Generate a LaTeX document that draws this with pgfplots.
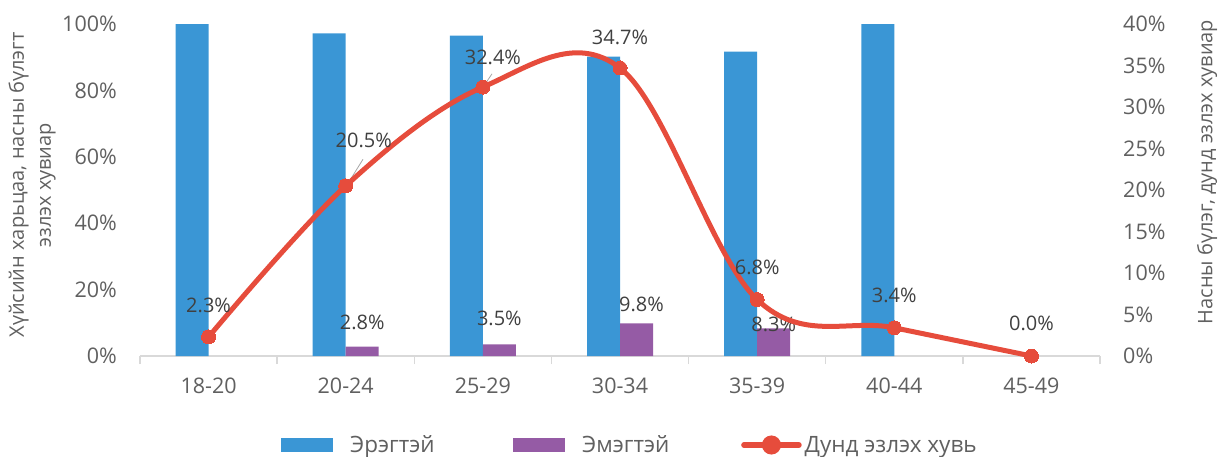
\documentclass[border=0pt]{standalone}
\usepackage{fontspec}
\setmainfont{Open Sans}
\usepackage{pgfplots}
\pgfplotsset{compat=1.18}
\usepackage{pgfplotstable}

\definecolor{menblue}{HTML}{3A96D5}
\definecolor{womenpurple}{HTML}{955BA5}
\definecolor{ratered}{HTML}{E64C3C}
\definecolor{tickgray}{HTML}{606060}
\definecolor{labgray}{HTML}{404040}
\definecolor{axisgray}{HTML}{D9D9D9}

\newcommand\ticksize{\fontsize{21.5}{25}\selectfont}
\newcommand\labsize{\fontsize{20}{24}\selectfont}
\newcommand\legsize{\fontsize{22.5}{26}\selectfont}

% x = age group index, men / women share (%), label offsets in pt
\pgfplotstableread{
x men women wlab wdx wdy
0 100.0 0.0 {} 0 0
1 97.2 2.8 {2.8\%} 0 24
2 96.5 3.5 {3.5\%} 0 26
3 90.2 9.8 {9.8\%} 5 19
4 91.7 8.3 {8.3\%} 0 4.5
5 100.0 0.0 {} 0 0
6 0.0 0.0 {} 0 0
}\gendertable

% share of each age group (%)
\pgfplotstableread{
x rate dx dy
0 2.3 0 31.5
1 20.5 18 45
2 32.4 10 30
3 34.7 0 31
4 6.8 0 32
5 3.4 0 32
6 0.0 0 33
}\ratetable

\begin{document}
\begin{tikzpicture}
\path[use as bounding box] (-140pt,-100pt) rectangle (1080pt,356pt);

\begin{axis}[
  at={(0,0)}, anchor=south west,
  scale only axis, width=960pt, height=332pt,
  xmin=-0.5, xmax=6.5, ymin=0, ymax=100,
  axis y line*=left, axis x line*=bottom,
  y axis line style={draw=none},
  x axis line style={axisgray, line width=1.3pt, -},
  xtick={0,...,6},
  xticklabels={18-20,20-24,25-29,30-34,35-39,40-44,45-49},
  minor xtick={-0.5,0.5,...,6.5},
  major tick length=0pt, minor tick length=8pt,
  tick align=outside,
  minor tick style={axisgray, line width=1.3pt},
  ytick style={draw=none},
  ytick={0,20,...,100},
  yticklabel={\pgfmathprintnumber{\tick}\%},
  /pgf/number format/assume math mode=true,
  tick label style={font=\ticksize, text=tickgray},
  yticklabel style={anchor=east, inner sep=0pt, xshift=-23pt},
  xticklabel style={anchor=north, inner sep=0pt, yshift=-22pt},
  ybar=0pt, bar width=33pt,
  y filter/.expression={y==0 ? nan : y},
  legend columns=3,
  legend style={at={(141pt,-89pt)}, anchor=west, draw=none, fill=none,
    inner sep=0pt, font=\legsize, text=tickgray,
    nodes={inner sep=0pt},
    /tikz/column 1/.style={column sep=17pt},
    /tikz/column 3/.style={column sep=17pt},
    /tikz/column 5/.style={column sep=3pt}},
]
\addplot[fill=menblue, draw=none,
  legend image code/.code={\fill[menblue] (0pt,-7pt) rectangle (52pt,7pt);}]
  table[x=x, y=men]{\gendertable};
\addlegendentry{\makebox[163pt][l]{Эрэгтэй}}

\addplot[fill=womenpurple, draw=none,
  legend image code/.code={\fill[womenpurple] (0pt,-7pt) rectangle (52pt,7pt);},
  point meta=explicit symbolic,
  nodes near coords={\pgfplotspointmeta},
  visualization depends on={\thisrow{wdx} \as \wdx},
  visualization depends on={\thisrow{wdy} \as \wdy},
  every node near coord/.append style={anchor=center, font=\labsize,
    text=labgray, xshift=\wdx pt, yshift=\wdy pt}]
  table[x=x, y=women, meta=wlab]{\gendertable};
\addlegendentry{\makebox[159pt][l]{Эмэгтэй}}

\addlegendimage{ratered, line width=5pt,
  legend image code/.code={
    \draw[ratered, line width=5.5pt, line cap=round] (0pt,0pt) -- (55pt,0pt);
    \fill[ratered] (27.5pt,0pt) circle (7pt);}}
\addlegendentry{Дунд эзлэх хувь}
\end{axis}

\begin{axis}[
  at={(0,0)}, anchor=south west,
  scale only axis, width=960pt, height=332pt,
  xmin=-0.5, xmax=6.5, ymin=0, ymax=40,
  axis y line*=right, axis x line=none,
  y axis line style={draw=none}, ytick style={draw=none},
  major tick length=0pt,
  ytick={0,5,...,40},
  yticklabel={\pgfmathprintnumber{\tick}\%},
  /pgf/number format/assume math mode=true,
  tick label style={font=\ticksize, text=tickgray},
  yticklabel style={anchor=west, inner sep=0pt, xshift=23pt},
]
\draw[gray!70, line width=0.8pt] (axis cs:1.009,20.6) -- (axis cs:1.126,23.7);
\draw[gray!70, line width=0.8pt] (axis cs:2.001,32.4) -- (axis cs:2.067,34.0);
\addplot[ratered, line width=5pt, smooth, tension=0.6,
  mark=*, mark size=7pt, mark options={fill=ratered, draw=ratered, line width=0pt},
  point meta=explicit,
  nodes near coords={\pgfmathprintnumber[fixed, fixed zerofill, precision=1]{\pgfplotspointmeta}\%},
  visualization depends on={\thisrow{dx} \as \ldx},
  visualization depends on={\thisrow{dy} \as \ldy},
  every node near coord/.append style={anchor=center, font=\labsize,
    text=labgray, xshift=\ldx pt, yshift=\ldy pt}]
  table[x=x, y=rate, meta=rate]{\ratetable};
\end{axis}

\node[rotate=90, align=center, font=\fontsize{20}{27}\selectfont, text=tickgray]
  at (-108pt,171pt) {Хүйсийн харьцаа, насны бүлэгт\\эзлэх хувиар};
\node[rotate=90, font=\fontsize{20}{24}\selectfont, text=tickgray]
  at (1067pt,184pt) {Насны бүлэг, дунд эзлэх хувиар};
\end{tikzpicture}
\end{document}
